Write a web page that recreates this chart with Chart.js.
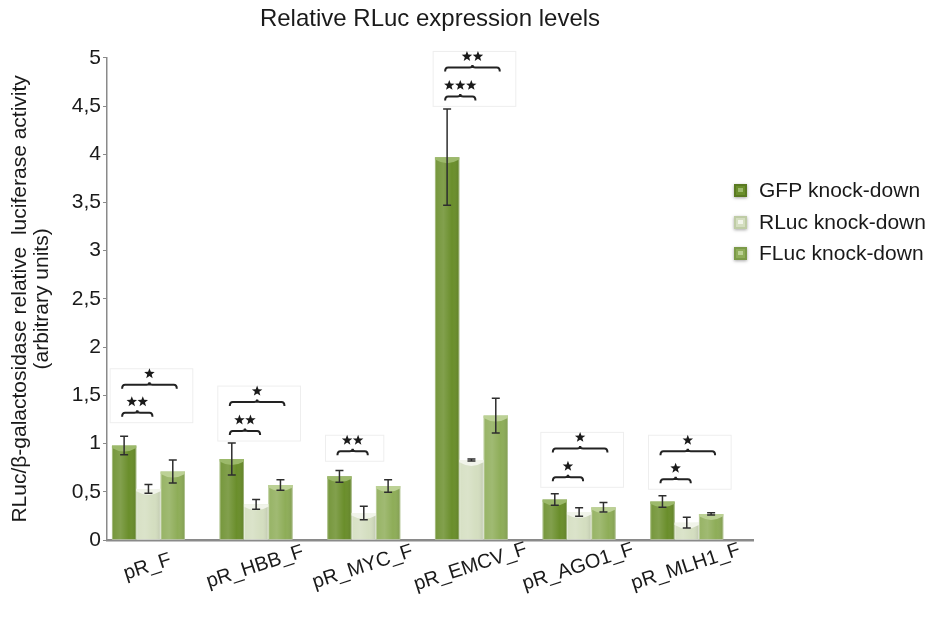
<!DOCTYPE html>
<html>
<head>
<meta charset="utf-8">
<script src="https://cdn.jsdelivr.net/npm/chart.js@4.4.1/dist/chart.umd.min.js"></script>
<style>
  html, body { margin: 0; padding: 0; background: #fff; }
  #wrap { width: 928px; height: 644px; }
</style>
</head>
<body>
<div id="wrap"><canvas id="rlucChart" width="928" height="644"></canvas></div>
<script>
// constructs on the x axis
const constructs = ['pR_F', 'pR_HBB_F', 'pR_MYC_F', 'pR_EMCV_F', 'pR_AGO1_F', 'pR_MLH1_F'];
const seriesNames = ['GFP knock-down', 'RLuc knock-down', 'FLuc knock-down'];

// mean relative activity per construct
const gfpValues = [0.98, 0.84, 0.66, 3.97, 0.42, 0.40];
const rlucValues = [0.53, 0.37, 0.28, 0.83, 0.29, 0.18];
const flucValues = [0.71, 0.57, 0.56, 1.29, 0.34, 0.27];

// error (+/-) per construct
const gfpErrors = [0.095, 0.165, 0.06, 0.50, 0.06, 0.06];
const rlucErrors = [0.045, 0.05, 0.07, 0.01, 0.045, 0.055];
const flucErrors = [0.12, 0.055, 0.065, 0.18, 0.05, 0.012];

const yTickValues = [0, 0.5, 1, 1.5, 2, 2.5, 3, 3.5, 4, 4.5, 5];
const yTickLabels = ['0', '0,5', '1', '1,5', '2', '2,5', '3', '3,5', '4', '4,5', '5'];

// significance: [construct index, compared series, stars]
const sigTests = [
  [0, 1, '**'], [0, 2, '*'],
  [1, 1, '**'], [1, 2, '*'],
  [2, 1, '**'],
  [3, 1, '***'], [3, 2, '**'],
  [4, 1, '*'], [4, 2, '*'],
  [5, 1, '*'], [5, 2, '*']
];
// bracket heights (axis units), same order as sigTests
const sigLevels = [1.32, 1.61, 1.13, 1.43, 0.92, 4.60, 4.90, 0.65, 0.95, 0.63, 0.92];

const seriesValues = [gfpValues, rlucValues, flucValues];
const seriesErrors = [gfpErrors, rlucErrors, flucErrors];

const FONT = "'Liberation Sans', Arial, sans-serif";
const palette = [
  { body: '#6a8e2b', cap: '#9cb96b', edge: '#5a7a22' },
  { body: '#d4dec0', cap: '#f1f4ea', edge: '#bfcca6' },
  { body: '#8ead58', cap: '#bcd195', edge: '#7b9a48' }
];

// cylinder-like shading on top of each flat bar
const barShading = {
  id: 'barShading',
  afterDatasetsDraw(chart) {
    const ctx = chart.ctx;
    chart.data.datasets.forEach((ds, d) => {
      const col = palette[d];
      chart.getDatasetMeta(d).data.forEach(bar => {
        const left = bar.x - bar.width / 2;
        const right = bar.x + bar.width / 2;
        ctx.save();
        const g = ctx.createLinearGradient(left, 0, right, 0);
        g.addColorStop(0, 'rgba(255,255,255,0.08)');
        g.addColorStop(0.35, 'rgba(255,255,255,0.16)');
        g.addColorStop(0.7, 'rgba(255,255,255,0)');
        g.addColorStop(1, 'rgba(0,0,0,0.10)');
        ctx.fillStyle = g;
        ctx.fillRect(left, bar.y, bar.width, bar.base - bar.y);
        // edge lines
        ctx.strokeStyle = 'rgba(255,255,255,0.35)';
        ctx.lineWidth = 1;
        ctx.strokeRect(left + 0.5, bar.y, bar.width - 1, bar.base - bar.y);
        // light concave top
        const h = Math.min(6, bar.base - bar.y);
        ctx.beginPath();
        ctx.moveTo(left, bar.y);
        ctx.lineTo(right, bar.y);
        ctx.lineTo(right, bar.y + h * 0.4);
        ctx.quadraticCurveTo(bar.x, bar.y + h * 1.6, left, bar.y + h * 0.4);
        ctx.closePath();
        ctx.fillStyle = col.cap;
        ctx.fill();
        ctx.restore();
      });
    });
  }
};

const errorBars = {
  id: 'errorBars',
  afterDatasetsDraw(chart) {
    const ctx = chart.ctx;
    const yScale = chart.scales.y;
    ctx.save();
    ctx.strokeStyle = '#2e2e2e';
    ctx.lineWidth = 1.5;
    chart.data.datasets.forEach((ds, d) => {
      chart.getDatasetMeta(d).data.forEach((bar, i) => {
        const v = seriesValues[d][i];
        const e = seriesErrors[d][i];
        const top = yScale.getPixelForValue(v + e);
        const bot = yScale.getPixelForValue(v - e);
        const cw = 4;
        ctx.beginPath();
        ctx.moveTo(bar.x, top);
        ctx.lineTo(bar.x, bot);
        ctx.moveTo(bar.x - cw, top);
        ctx.lineTo(bar.x + cw, top);
        ctx.moveTo(bar.x - cw, bot);
        ctx.lineTo(bar.x + cw, bot);
        ctx.stroke();
      });
    });
    ctx.restore();
  }
};

function drawStar(ctx, cx, cy, r) {
  ctx.beginPath();
  for (let k = 0; k < 10; k++) {
    const rad = k % 2 === 0 ? r : r * 0.42;
    const a = -Math.PI / 2 + k * Math.PI / 5;
    const px = cx + rad * Math.cos(a);
    const py = cy + rad * Math.sin(a);
    if (k === 0) ctx.moveTo(px, py); else ctx.lineTo(px, py);
  }
  ctx.closePath();
  ctx.fill();
}

// brackets with stars between GFP bar and the compared bar
const sigBrackets = {
  id: 'sigBrackets',
  afterDraw(chart) {
    const ctx = chart.ctx;
    const yScale = chart.scales.y;
    const boxes = {};
    ctx.save();
    sigTests.forEach(([cat, other, stars], n) => {
      const x1 = chart.getDatasetMeta(0).data[cat].x - 2;
      const x2 = chart.getDatasetMeta(other).data[cat].x + 4;
      const y = yScale.getPixelForValue(sigLevels[n]);
      const mid = (x1 + x2) / 2;
      ctx.strokeStyle = '#222';
      ctx.lineWidth = 2;
      ctx.beginPath();
      ctx.moveTo(x1, y + 4);
      ctx.quadraticCurveTo(x1, y, x1 + 3, y);
      ctx.lineTo(mid - 3, y);
      ctx.quadraticCurveTo(mid, y, mid, y - 2.5);
      ctx.quadraticCurveTo(mid, y, mid + 3, y);
      ctx.lineTo(x2 - 3, y);
      ctx.quadraticCurveTo(x2, y, x2, y + 4);
      ctx.stroke();
      ctx.fillStyle = '#1a1a1a';
      const count = stars.length;
      for (let k = 0; k < count; k++) {
        drawStar(ctx, mid + (k - (count - 1) / 2) * 11, y - 11, 5.5);
      }
      const b = boxes[cat] || (boxes[cat] = { l: Infinity, r: -Infinity, t: Infinity, btm: -Infinity });
      b.l = Math.min(b.l, x1); b.r = Math.max(b.r, x2);
      b.t = Math.min(b.t, y); b.btm = Math.max(b.btm, y);
    });
    // faint frames round each group of brackets
    ctx.strokeStyle = 'rgba(0,0,0,0.07)';
    ctx.lineWidth = 1;
    Object.values(boxes).forEach(b => {
      ctx.strokeRect(b.l - 12, b.t - 16, (b.r - b.l) + 28, (b.btm - b.t) + 26);
    });
    ctx.restore();
  }
};

// rotated category names under the axis
const xLabels = {
  id: 'xLabels',
  afterDraw(chart) {
    const ctx = chart.ctx;
    const xScale = chart.scales.x;
    ctx.save();
    ctx.font = '20px ' + FONT;
    ctx.fillStyle = '#1a1a1a';
    ctx.textAlign = 'center';
    ctx.textBaseline = 'middle';
    constructs.forEach((name, i) => {
      ctx.save();
      ctx.translate(xScale.getPixelForValue(i) - 1, chart.chartArea.bottom + 27);
      ctx.rotate(-18 * Math.PI / 180);
      ctx.fillText(name, 0, 0);
      ctx.restore();
    });
    ctx.restore();
  }
};

const legendBox = {
  id: 'legendBox',
  afterDraw(chart) {
    const ctx = chart.ctx;
    const rows = [191, 223, 254];
    ctx.save();
    chart.data.datasets.forEach((ds, d) => {
      const col = palette[d];
      const y = rows[d];
      ctx.save();
      ctx.shadowColor = 'rgba(0,0,0,0.35)';
      ctx.shadowBlur = 3;
      ctx.shadowOffsetY = 1;
      ctx.fillStyle = col.edge;
      ctx.fillRect(734, y - 7, 13, 13);
      ctx.restore();
      ctx.fillStyle = col.body;
      ctx.fillRect(736, y - 5, 9, 9);
      ctx.fillStyle = col.cap;
      ctx.fillRect(738, y - 3, 5, 4);
      ctx.font = '21px ' + FONT;
      ctx.fillStyle = '#1a1a1a';
      ctx.textAlign = 'left';
      ctx.textBaseline = 'middle';
      ctx.fillText(ds.label, 759, y);
    });
    ctx.restore();
  }
};

const ctx = document.getElementById('rlucChart').getContext('2d');
new Chart(ctx, {
  type: 'bar',
  data: {
    datasets: seriesValues.map((vals, d) => ({
      label: seriesNames[d],
      data: vals.map((v, i) => ({ x: i, y: v })),
      backgroundColor: palette[d].body,
      borderWidth: 0,
      categoryPercentage: 0.678,
      barPercentage: 1
    }))
  },
  options: {
    responsive: false,
    animation: false,
    layout: { padding: { left: 0, right: 175, top: 0, bottom: 0 } },
    scales: {
      x: {
        type: 'linear',
        min: -0.385,
        max: 5.615,
        offset: false,
        afterBuildTicks(scale) {
          // one tick per construct so bar widths follow the category spacing
          scale.ticks = constructs.map((c, i) => ({ value: i }));
        },
        grid: { display: false },
        border: { color: '#8a8a8a', width: 2.5 },
        ticks: { display: false },
        afterFit(scale) { scale.height = 104; }
      },
      y: {
        min: 0,
        max: 5,
        afterBuildTicks(scale) {
          scale.ticks = yTickValues.map(v => ({ value: v }));
        },
        ticks: {
          callback: (value, index) => yTickLabels[index],
          font: { family: FONT, size: 21 },
          color: '#1a1a1a',
          padding: 2
        },
        grid: { drawOnChartArea: false, drawTicks: true, tickLength: 4, color: '#8a8a8a' },
        border: { color: '#8a8a8a', width: 1.5 },
        title: {
          display: true,
          text: ['RLuc/\u03b2-galactosidase relative  luciferase activity', '(arbitrary units)'],
          font: { family: FONT, size: 21, lineHeight: 1.05 },
          color: '#1a1a1a',
          padding: { top: 9, bottom: 0 }
        },
        afterFit(scale) { scale.width = 107; }
      }
    },
    plugins: {
      legend: { display: false },
      tooltip: { enabled: false },
      title: {
        display: true,
        fullSize: false,
        text: 'Relative RLuc expression levels',
        font: { family: FONT, size: 24, weight: 'normal', lineHeight: 1.2 },
        color: '#1a1a1a',
        padding: { top: 5, bottom: 24 }
      }
    }
  },
  plugins: [barShading, errorBars, sigBrackets, xLabels, legendBox]
});
</script>
</body>
</html>
